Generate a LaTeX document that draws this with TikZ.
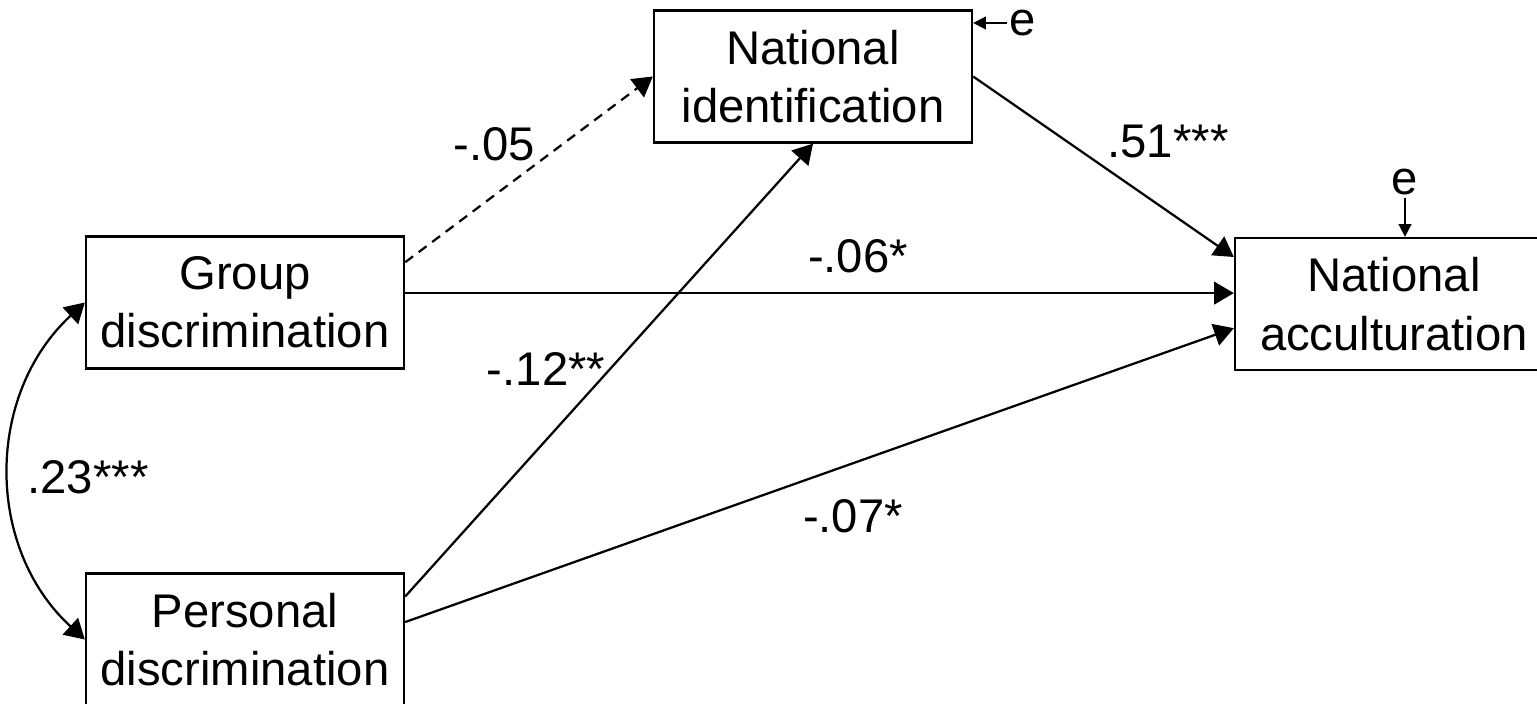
\documentclass[tikz,border=0pt]{standalone}
\usepackage{fontspec}
\setmainfont{Liberation Sans}
\usetikzlibrary{arrows.meta,calc}
\begin{document}
\begin{tikzpicture}[
    x=0.025cm, y=-0.025cm,
    every node/.style={font=\fontsize{33.6}{41.5}\selectfont},
    varbox/.style={draw, line width=1.6pt, align=center, minimum width=7.95cm, minimum height=3.3cm, inner sep=0pt},
    effect/.style={line width=1.6pt, -{Triangle[length=14pt,width=16pt]}},
    corr/.style={line width=1.6pt, {Triangle[length=14pt,width=16pt]}-{Triangle[length=14pt,width=16pt]}},
    coef/.style={anchor=base, inner sep=0pt},
    errlabel/.style={inner sep=2pt},
    errarrow/.style={line width=1.3pt, -{Triangle[length=9pt,width=9pt]}}
]
\useasboundingbox (0,0) rectangle (1537,703);
\node[varbox] (grp) at (245,302.5) {Group\\discrimination};
\node[varbox] (pers) at (245,639.5) {Personal\\discrimination};
\node[varbox] (natid) at (813,76.5) {National\\identification};
\node[varbox] (natac) at (1394,304) {National\\acculturation};

\draw[effect, dash pattern=on 7pt off 5pt] ($(grp.north east)!0.2!(grp.south east)$) -- (natid.west);
\draw[effect] ($(grp.north east)!0.43!(grp.south east)$) coordinate (g1) -- (g1 -| natac.west);
\draw[effect] ($(pers.north east)!0.18!(pers.south east)$) -- (natid.south);
\draw[effect] ($(pers.north east)!0.37!(pers.south east)$) -- ($(natac.north west)!0.68!(natac.south west)$);
\draw[effect] (natid.east) -- ($(natac.north west)!0.15!(natac.south west)$);
\draw[corr] (grp.west) .. controls (-15,395) and (-15,548) .. (pers.west);

\node[coef] (bgi) at (494,160) {-.05};
\node[coef] (bia) at (1168,157) {.51***};
\node[coef] (bga) at (858,272) {-.06*};
\node[coef] (bpi) at (546,385) {-.12**};
\node[coef] (bpa) at (853,532) {-.07*};
\node[coef] (rgp) at (88,493) {.23***};

\node[errlabel] (eid) at (1023,23) {e};
\draw[errarrow] (eid.west) -- (eid.west -| natid.east);
\node[errlabel] (eac) at (1405,182) {e};
\draw[errarrow] (eac.south) -- (eac.south |- natac.north);
\end{tikzpicture}
\end{document}
